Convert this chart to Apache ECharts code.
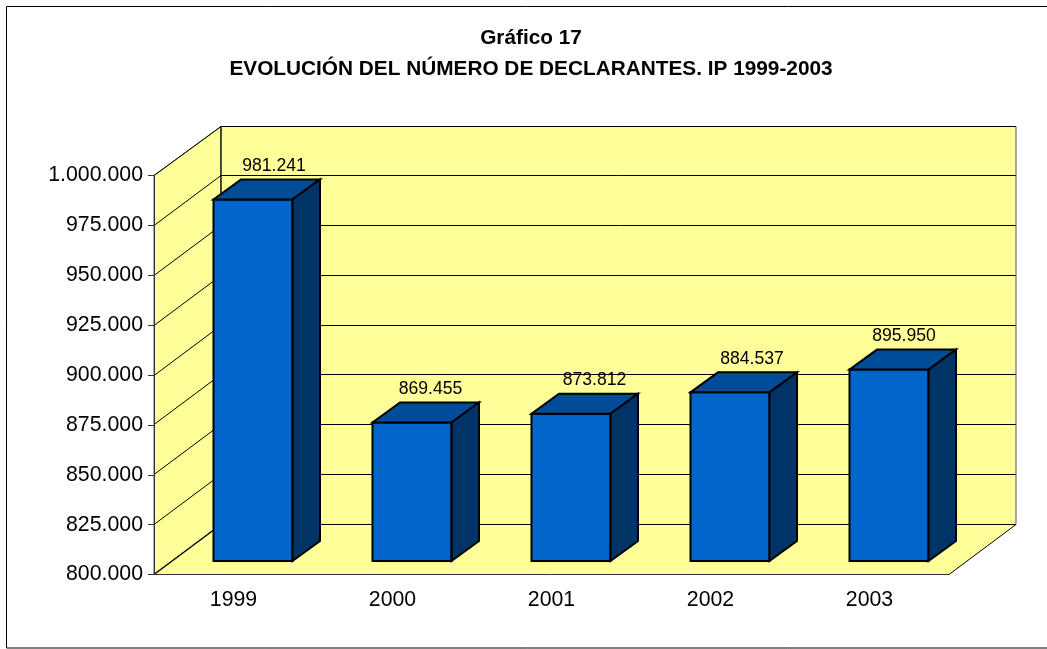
<!DOCTYPE html>
<html>
<head>
<meta charset="utf-8">
<style>
  html, body { margin: 0; padding: 0; background: #fff; }
  #chart { width: 1047px; height: 649px; }
</style>
</head>
<body>
<div id="chart"></div>
<script src="https://cdn.jsdelivr.net/npm/echarts@6/dist/echarts.min.js"></script>
<script>
const years = ['1999', '2000', '2001', '2002', '2003']
const declarantes = [981241, 869455, 873812, 884537, 895950]
const gridValues = [825000, 850000, 875000, 900000, 925000, 950000, 975000, 1000000]

const yMin = 800000
const yMax = 1000000
const yStep = 25000

// fake 3d offsets, in pixels
const wallDx = 67
const wallDy = -50
const wallTopDy = -49
const barDx = 19.5
const barDy = -13.5
const barWidth = 79
const sideDx = 27.5
const sideDy = -20
const labelDx = [21, 18.5, 23.5, 22, 15]

const fontFamily = '"Liberation Sans", Arial, sans-serif'
const fmt = (v) => String(v).replace(/\B(?=(\d{3})+$)/g, '.')

const poly = (points, fill, stroke, lineWidth) => ({
  type: 'polygon',
  shape: { points },
  style: { fill, stroke, lineWidth, lineJoin: 'miter' }
})

const seg = (x1, y1, x2, y2, lineWidth) => ({
  type: 'line',
  shape: { x1, y1, x2, y2 },
  style: { stroke: '#000', lineWidth }
})

const plotBox = (api) => {
  const band = api.size([1, 0])[0]
  const left = api.coord([0, yMin])[0] - band / 2
  const right = left + band * years.length
  return { left, right, bottom: api.coord([0, yMin])[1], top: api.coord([0, yMax])[1] }
}

const renderWalls = (params, api) => {
  const { left, right, bottom, top } = plotBox(api)
  const wall = '#FFFF99'
  const edge = '#555555'
  const backLeft = left + wallDx
  const backRight = right + wallDx
  const backBottom = bottom + wallDy
  const backTop = top + wallTopDy
  return {
    type: 'group',
    children: [
      poly([[left, bottom], [backLeft, backBottom], [backLeft, backTop], [left, top]], wall, edge, 1),
      poly([[backLeft, backBottom], [backRight, backBottom], [backRight, backTop], [backLeft, backTop]], wall, edge, 1),
      poly([[left, bottom], [right, bottom], [backRight, backBottom], [backLeft, backBottom]], wall, null, 0),
      seg(left, bottom, backLeft, backBottom, 1.4),
      seg(backLeft, backBottom, backRight, backBottom, 1),
      seg(right, bottom, backRight, backBottom, 1),
      seg(backLeft, backBottom, backLeft, backTop, 1),
      seg(backLeft, backTop, backRight, backTop, 1),
      seg(left, top, backLeft, backTop, 1)
    ]
  }
}

const renderGridLine = (params, api) => {
  const { left, right } = plotBox(api)
  const y = Math.floor(api.coord([0, api.value(0)])[1]) + 0.5
  return {
    type: 'polyline',
    shape: { points: [[left, y], [left + wallDx, y + wallDy], [right + wallDx, y + wallDy]] },
    style: { fill: null, stroke: '#000', lineWidth: 1 }
  }
}

const renderBar = (params, api) => {
  const i = api.value(0)
  const [cx, top] = api.coord([i, api.value(1)])
  const base = api.coord([i, yMin])[1]
  const x0 = cx - barWidth / 2 + barDx
  const x1 = x0 + barWidth
  const y0 = top + barDy
  const y1 = base + barDy
  return {
    type: 'group',
    children: [
      poly([[x0, y1], [x1, y1], [x1, y0], [x0, y0]], '#0066CC', '#000', 2),
      poly([[x0, y0], [x1, y0], [x1 + sideDx, y0 + sideDy], [x0 + sideDx, y0 + sideDy]], '#004C99', '#000', 2),
      poly([[x1, y1], [x1 + sideDx, y1 + sideDy], [x1 + sideDx, y0 + sideDy], [x1, y0]], '#003366', '#000', 2),
      {
        type: 'text',
        style: {
          x: cx + barDx + labelDx[i],
          y: y0 + sideDy - 13.5,
          text: fmt(api.value(1)),
          fill: '#000',
          font: '17.6px ' + fontFamily,
          textAlign: 'center',
          textVerticalAlign: 'middle'
        }
      }
    ]
  }
}

const chart = echarts.init(document.getElementById('chart'))

chart.setOption({
  animation: false,
  backgroundColor: '#ffffff',
  title: {
    text: 'Gráfico 17\nEVOLUCIÓN DEL NÚMERO DE DECLARANTES. IP 1999-2003',
    left: 531,
    top: 23,
    padding: 0,
    textAlign: 'center',
    textStyle: {
      fontFamily,
      fontSize: 20.8,
      fontWeight: 'bold',
      color: '#000',
      lineHeight: 31
    }
  },
  graphic: [
    {
      type: 'rect',
      z: -1,
      shape: { x: 6.5, y: 6.5, width: 1100, height: 641.5 },
      style: { fill: null, stroke: '#000', lineWidth: 1 }
    }
  ],
  grid: { left: 154, top: 175.5, width: 795, height: 399 },
  xAxis: {
    type: 'category',
    data: years,
    z: 5,
    axisLine: { lineStyle: { color: '#333', width: 1 } },
    axisTick: { length: 6, lineStyle: { color: '#333' } },
    axisLabel: { color: '#000', fontFamily, fontSize: 21.3, margin: 15 },
    splitLine: { show: false }
  },
  yAxis: {
    type: 'value',
    min: yMin,
    max: yMax,
    interval: yStep,
    z: 5,
    axisLine: { show: true, lineStyle: { color: '#333', width: 1 } },
    axisTick: { show: true, length: 6, lineStyle: { color: '#333' } },
    axisLabel: { color: '#000', fontFamily, fontSize: 21.3, margin: 11, padding: [3, 0, 0, 0], formatter: fmt },
    splitLine: { show: false }
  },
  series: [
    { type: 'custom', z: 1, silent: true, data: [0], renderItem: renderWalls },
    {
      type: 'custom',
      z: 2,
      silent: true,
      encode: { y: 0 },
      // the 1.000.000 line is the wall's own top edge
      data: gridValues.filter((v) => v < yMax).map((v) => [v]),
      renderItem: renderGridLine
    },
    {
      type: 'custom',
      z: 3,
      encode: { x: 0, y: 1 },
      data: declarantes.map((v, i) => [i, v]),
      renderItem: renderBar
    }
  ]
})
</script>
</body>
</html>
